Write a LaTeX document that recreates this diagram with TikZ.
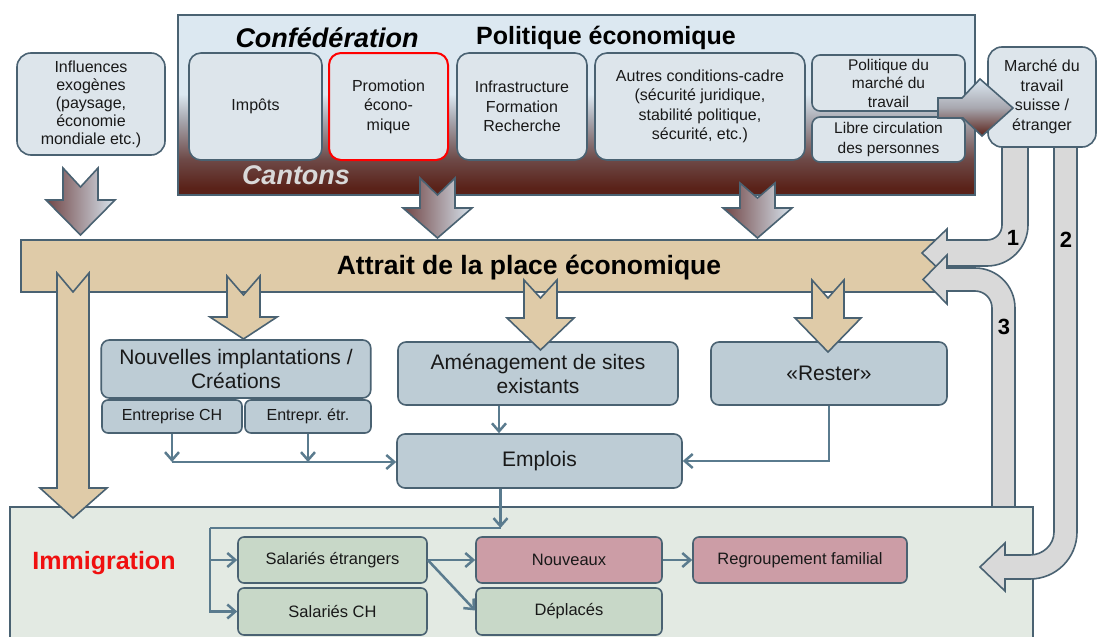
\documentclass[tikz,border=0pt]{standalone}
\usepackage{fontspec}
\setmainfont{Liberation Sans}
\usetikzlibrary{arrows.meta}
\definecolor{edge}{HTML}{4A6272}
\definecolor{boxA}{HTML}{DDE5EB}
\definecolor{boxB}{HTML}{BDCCD5}
\definecolor{tanfill}{HTML}{DFCBA8}
\definecolor{grayarr}{HTML}{D9D9D9}
\definecolor{immfill}{HTML}{E3EAE3}
\definecolor{lgreen}{HTML}{C8D8C8}
\definecolor{lpink}{HTML}{CC9DA6}
\definecolor{conncol}{HTML}{5A7B8E}
\definecolor{pbrown}{HTML}{5A2219}
\definecolor{pmidA}{HTML}{6E4A48}
\definecolor{pmidB}{HTML}{A8A8B0}
\definecolor{plight}{HTML}{DCE8F1}
\definecolor{adark}{HTML}{704545}
\definecolor{amid}{HTML}{B2AEB8}
\definecolor{alight}{HTML}{D8E4EE}
\definecolor{cantcol}{HTML}{D9D9D9}
\definecolor{redtxt}{HTML}{F01010}
\pgfdeclareverticalshading{panelshade}{100bp}{color(0bp)=(pbrown); color(27bp)=(pbrown); color(35bp)=(pmidA); color(46bp)=(pmidB); color(53bp)=(plight); color(100bp)=(plight)}
\tikzset{
  tbox/.style={draw=edge, line width=1.6pt, fill=boxA, rounded corners=12pt, align=center, inner sep=0pt, text=black!90, font=\fontsize{16}{19.5}\selectfont},
  mbox/.style={draw=edge, line width=1.6pt, fill=boxB, rounded corners=8pt, align=center, inner sep=0pt, text=black!90, font=\fontsize{21}{24}\selectfont},
  sbox/.style={mbox, rounded corners=6pt, font=\fontsize{16}{19}\selectfont},
  gbox/.style={draw=edge, line width=1.6pt, fill=lgreen, rounded corners=6pt, align=center, inner sep=0pt, text=black!90, font=\fontsize{16.5}{19}\selectfont},
  pbox/.style={gbox, fill=lpink},
  tanarrow/.style={draw=edge, line width=1.6pt, fill=tanfill, line join=miter},
  gradarrow/.style={draw=edge, line width=1.6pt, left color=adark, middle color=amid, right color=alight, line join=miter},
  grayarrow/.style={draw=edge, line width=1.6pt, fill=grayarr, line join=miter},
  conn/.style={draw=conncol, line width=2.5pt, -{Straight Barb[length=8pt,width=14pt]}},
  plain/.style={draw=conncol, line width=2.5pt},
  num/.style={font=\fontsize{22}{24}\selectfont\bfseries, inner sep=0pt}
}
\begin{document}
\frenchspacing
\begin{tikzpicture}[x=1pt,y=-1pt]
\useasboundingbox (0,0) rectangle (1098,637);
\fill[white] (0,0) rectangle (1098,637);

% Immigration area
\node[draw=edge, line width=1.6pt, fill=immfill, minimum width=1023pt, minimum height=153pt, inner sep=0pt] (imm) at (521.5,583.5) {};
\node[text=redtxt, font=\fontsize{25}{28}\selectfont\bfseries] (immtxt) at (104,563) {Immigration};

% top panel
\node[draw=edge, line width=1.6pt, shade, shading=panelshade, minimum width=797pt, minimum height=180pt, inner sep=0pt] (panel) at (576.5,105) {};
\node[font=\fontsize{27}{30}\selectfont\bfseries\itshape] (conf) at (327,38) {Confédération};
\node[font=\fontsize{25}{28}\selectfont\bfseries] (polit) at (606,38) {Politique économique};
\node[text=cantcol, font=\fontsize{27}{30}\selectfont\bfseries\itshape] (cantons) at (296,175) {Cantons};

\node[tbox, minimum width=133pt, minimum height=107pt] (impots) at (255.5,106.5) {Impôts};
\node[tbox, draw=red, line width=2pt, minimum width=119pt, minimum height=107pt] (promo) at (388.5,106.5) {Promotion\\écono-\\mique};
\node[tbox, minimum width=130pt, minimum height=107pt] (infra) at (522,106.5) {Infrastructure\\Formation\\Recherche};
\node[tbox, minimum width=210pt, minimum height=107pt] (autres) at (700,106.5) {Autres conditions-cadre\\(sécurité juridique,\\stabilité politique,\\sécurité, etc.)};
\node[tbox, rounded corners=8pt, minimum width=153pt, minimum height=56pt, font=\fontsize{15.5}{18.5}\selectfont] (polmar) at (888.5,83) {Politique du\\marché du\\travail};
\node[tbox, rounded corners=8pt, minimum width=153pt, minimum height=45pt, font=\fontsize{15.5}{19.5}\selectfont] (libre) at (888.5,139.5) {Libre circulation\\des personnes};

% influences
\node[tbox, rounded corners=14pt, minimum width=148pt, minimum height=102pt, font=\fontsize{16}{18}\selectfont] (influ) at (91,104) {Influences\\exogènes\\(paysage,\\économie\\mondiale etc.)};

% gradient down arrows
\path[gradarrow] (63,168) -- (80.5,187) -- (98,168) -- (98,200) -- (115,200) -- (80.5,235) -- (46,200) -- (63,200) -- cycle;
\path[gradarrow] (420,178) -- (437.5,195) -- (455,178) -- (455,208) -- (472,208) -- (437.5,238) -- (403,208) -- (420,208) -- cycle;
\path[gradarrow] (740,183) -- (757.5,198) -- (775,183) -- (775,208) -- (792,208) -- (757.5,238) -- (723,208) -- (740,208) -- cycle;

% bar
\node[draw=edge, line width=1.6pt, fill=tanfill, minimum width=919pt, minimum height=52pt, inner sep=0pt] (bar) at (480.5,266) {};

% gray arrows 1, 3, 2
\path[grayarrow] (1002,147) -- (1028,147) -- (1028,225) .. controls (1028,247.6) and (1009.6,266) .. (987,266) -- (947,266) -- (947,277) -- (922,253) -- (947,229) -- (947,240) -- (987,240) .. controls (995.3,240) and (1002,233.3) .. (1002,225) -- cycle;
\path[grayarrow] (992,507) -- (1015,507) -- (1015,308) .. controls (1015,285.9) and (997.1,268) .. (975,268) -- (947,268) -- (947,255) -- (923,279.5) -- (947,304) -- (947,291) -- (975,291) .. controls (984.4,291) and (992,298.6) .. (992,308) -- cycle;
\path[grayarrow] (1054,147) -- (1077,147) -- (1077,532) .. controls (1077,558) and (1056,579) .. (1030,579) -- (1005,579) -- (1005,591) -- (980,567) -- (1005,543) -- (1005,555) -- (1030,555) .. controls (1042.7,555) and (1054,545) .. (1054,532) -- cycle;
\node[num] (n1) at (1013,238) {1};
\node[num] (n2) at (1066,240) {2};
\node[num] (n3) at (1004,327) {3};

% marche
\node[tbox, rounded corners=14pt, minimum width=108pt, minimum height=100pt] (marche) at (1042,97) {Marché du\\travail\\suisse /\\étranger};
\path[draw=edge, line width=1.6pt, top color=plight, bottom color=pbrown, middle color=pmidB, line join=miter] (938,98) -- (962,98) -- (980,79) -- (1013,108) -- (982,136) -- (963,118) -- (938,118) -- cycle;

% middle boxes
\node[mbox, minimum width=269.5pt, minimum height=58pt] (nouv) at (236,369) {Nouvelles implantations /\\Créations};
\node[sbox, minimum width=140pt, minimum height=33pt] (entch) at (172,416.5) {Entreprise CH};
\node[sbox, minimum width=126pt, minimum height=33pt] (entet) at (308,416.5) {Entrepr. étr.};
\node[mbox, minimum width=280pt, minimum height=63pt] (amen) at (538,373.5) {Aménagement de sites\\existants};
\node[mbox, minimum width=236pt, minimum height=63pt] (rester) at (829,373.5) {«Rester»};
\node[mbox, minimum width=285pt, minimum height=54pt] (emplois) at (539.5,461) {Emplois};

% tan arrows
\path[tanarrow] (227,276) -- (243.5,295) -- (260,276) -- (260,317) -- (277,317) -- (243.5,339) -- (210,317) -- (227,317) -- cycle;
\path[tanarrow] (524,280) -- (540.5,298) -- (557,280) -- (557,318) -- (574,318) -- (540.5,350) -- (507,318) -- (524,318) -- cycle;
\path[tanarrow] (812,280) -- (828,298) -- (844,280) -- (844,318) -- (861,318) -- (828,352) -- (795,318) -- (812,318) -- cycle;
\path[tanarrow] (57,273) -- (73,292) -- (89,273) -- (89,488) -- (107,488) -- (73,518) -- (40,488) -- (57,488) -- cycle;

\node[font=\fontsize{26.5}{29}\selectfont\bfseries] (attrait) at (529,268) {Attrait de la place économique};

% connectors middle
\coordinate (j1) at (172,462);
\draw[conn] (entch.south) -- (j1);
\draw[conn] (entet.south) -- (entet.south |- j1);
\draw[conn] (j1) -- (j1 -| emplois.west);
\draw[conn] ([xshift=-39pt]amen.south) -- ([xshift=-39pt]amen.south |- emplois.north);
\draw[conn] (rester.south) |- (emplois.east);

% lower boxes
\node[gbox, minimum width=189pt, minimum height=46pt] (salet) at (332.5,560) {Salariés étrangers};
\node[gbox, minimum width=189pt, minimum height=47pt] (salch) at (332.5,611.5) {Salariés CH};
\node[pbox, minimum width=186pt, minimum height=46pt] (nouveaux) at (569,560) {Nouveaux};
\node[gbox, minimum width=186pt, minimum height=47pt] (depl) at (569,611.5) {Déplacés};
\node[pbox, minimum width=214pt, minimum height=46pt] (regr) at (800,560) {Regroupement familial};

% connectors lower
\coordinate (sp) at (210,528);
\draw[conn] ([xshift=-39pt]emplois.south) -- ([xshift=-39pt]emplois.south |- sp);
\draw[plain] ([xshift=-39pt]emplois.south |- sp) -- (sp);
\draw[conn] (sp) |- (salch.west);
\draw[conn] (sp |- salet.west) -- (salet.west);
\draw[conn] (salet.east) -- (nouveaux.west);
\draw[conn] (salet.east) -- ([yshift=1pt]depl.west);
\draw[conn] (nouveaux.east) -- (regr.west);
\end{tikzpicture}
\end{document}
